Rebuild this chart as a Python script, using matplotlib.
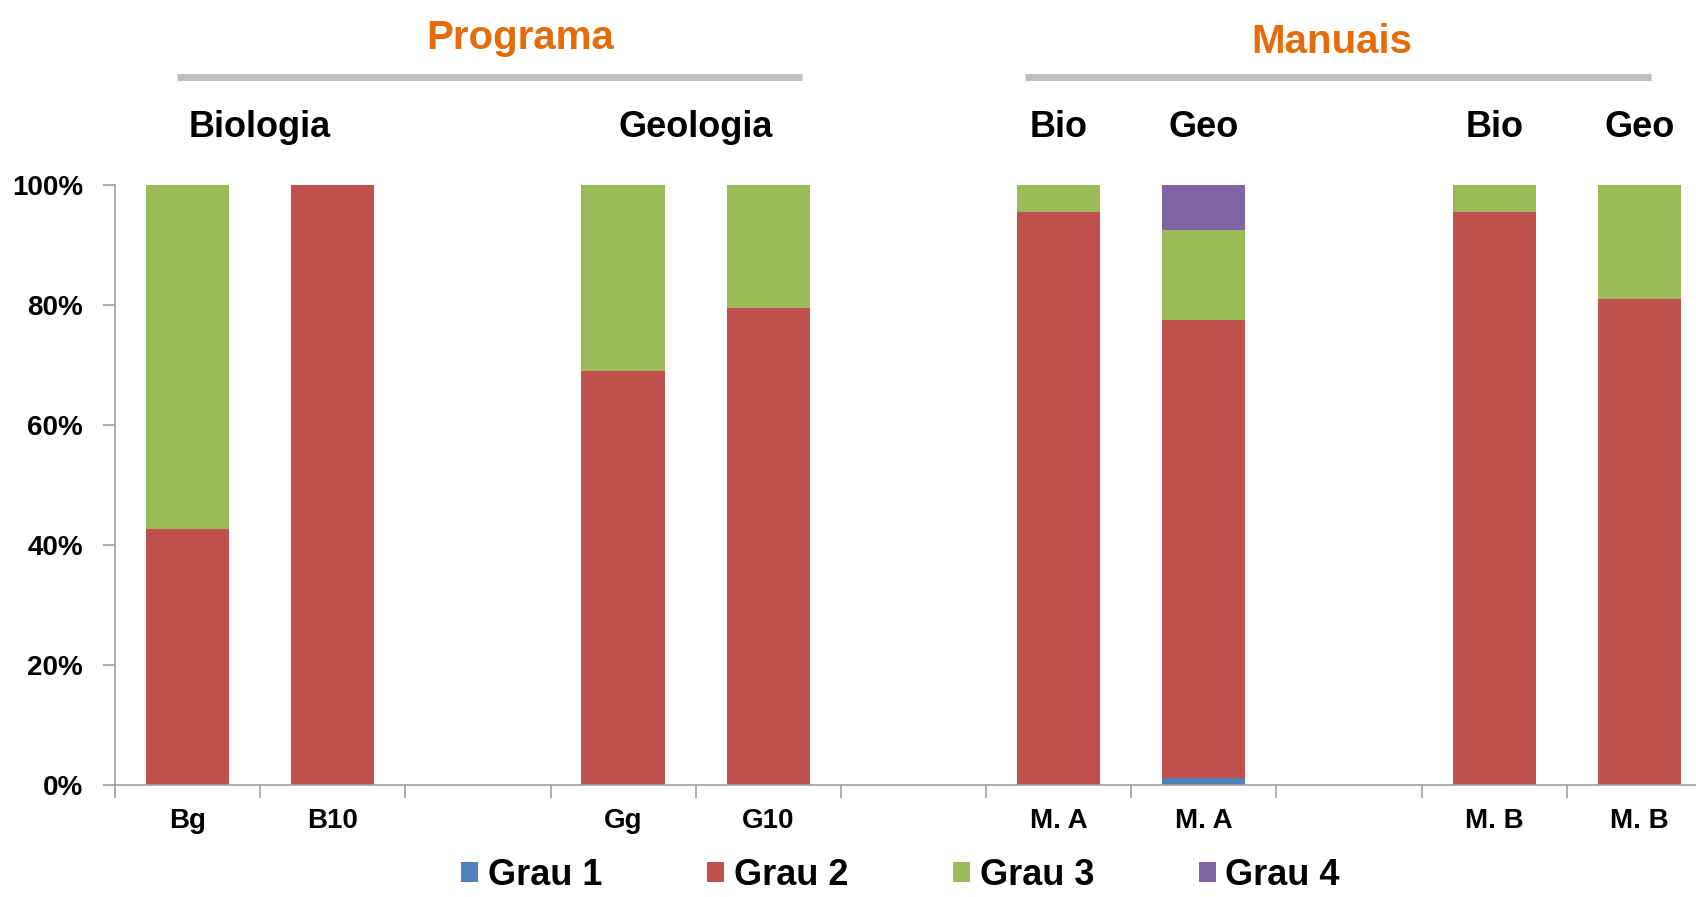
import numpy as np
from matplotlib import pyplot as plt

# categorie (slot vuoti per separare i gruppi)
categorie = ['Bg', 'B10', '', 'Gg', 'G10', '', 'M. A', 'M. A', '', 'M. B', 'M. B']
grau1 = [0.0, 0.0, 0, 0.0, 0.0, 0, 0.0, 1.2, 0, 0.0, 0.0]
grau2 = [42.8, 100.0, 0, 69.0, 79.5, 0, 95.5, 76.3, 0, 95.5, 81.1]
grau3 = [57.2, 0.0, 0, 31.0, 20.5, 0, 4.5, 15.1, 0, 4.5, 18.9]
grau4 = [0.0, 0.0, 0, 0.0, 0.0, 0, 0.0, 7.4, 0, 0.0, 0.0]
presenti = [1, 1, 0, 1, 1, 0, 1, 1, 0, 1, 1]

serie = [grau1, grau2, grau3, grau4]
nomi = ['Grau 1', 'Grau 2', 'Grau 3', 'Grau 4']
colori = ['#4F81BD', '#C0504D', '#9BBB59', '#8064A2']

gruppi = ['Biologia', 'Geologia', 'Bio', 'Geo', 'Bio', 'Geo']
pos_gruppi = [0.5, 3.5, 6, 7, 9, 10]

plt.rcParams['font.family'] = ['Liberation Sans', 'DejaVu Sans']
plt.rcParams['font.weight'] = 'bold'

fig = plt.figure(figsize=(16.96, 8.97), dpi=100)
ax = fig.add_axes([0.0678, 0.1245, 0.9416, 0.6689])

x = np.arange(len(categorie))
idx = [i for i in x if presenti[i]]
base = np.zeros(len(idx))
for s, nome, c in zip(serie, nomi, colori):
    v = np.array([s[i] for i in idx])
    ax.bar(idx, v, 0.574, bottom=base, color=c, label=nome, linewidth=0)
    base = base + v

ax.set_xlim(-0.5, len(categorie) - 0.5)
ax.set_ylim(0, 100)
ax.set_yticks(np.arange(0, 101, 20))
ax.set_yticklabels(['{}%'.format(v) for v in range(0, 101, 20)], fontsize=20, fontweight='bold')
ax.set_xticks(x)
ax.set_xticklabels(categorie, fontsize=20, fontweight='bold')
ax.set_xticks(np.arange(-0.5, len(categorie), 1.0), minor=True)
ax.tick_params(axis='x', which='major', length=0, pad=16)
ax.tick_params(axis='x', which='minor', length=9, color='#A0A0A0', width=1.2)
ax.tick_params(axis='y', length=9, color='#A0A0A0', width=1.2, pad=14)

for lato in ['top', 'right']:
    ax.spines[lato].set_visible(False)
for lato in ['left', 'bottom']:
    ax.spines[lato].set_color('#A0A0A0')
    ax.spines[lato].set_linewidth(1.2)

tr = ax.get_xaxis_transform()
for g, p in zip(gruppi, pos_gruppi):
    ax.text(p, 1.08, g, transform=tr, ha='center', va='baseline',
            fontsize=26, fontweight='bold')

# titoli e linee grigie
ax.plot([-0.073, 4.235], [1.18, 1.18], transform=tr, color='#BFBFBF', lw=5, clip_on=False, solid_capstyle='butt')
ax.plot([5.767, 10.083], [1.18, 1.18], transform=tr, color='#BFBFBF', lw=5, clip_on=False, solid_capstyle='butt')
ax.text(2.29, 1.228, 'Programa', transform=tr, ha='center', va='baseline',
        fontsize=29, fontweight='bold', color='#E46C0A')
ax.text(7.878, 1.221, 'Manuais', transform=tr, ha='center', va='baseline',
        fontsize=29, fontweight='bold', color='#E46C0A')

fig.legend(loc='center', bbox_to_anchor=(0.531, 0.024), ncol=4, frameon=False,
           prop={'size': 26, 'weight': 'bold'}, handlelength=0.47, handleheight=0.47,
           handletextpad=0.27, columnspacing=2.9, borderpad=0)

plt.savefig('out.png', dpi=100)
